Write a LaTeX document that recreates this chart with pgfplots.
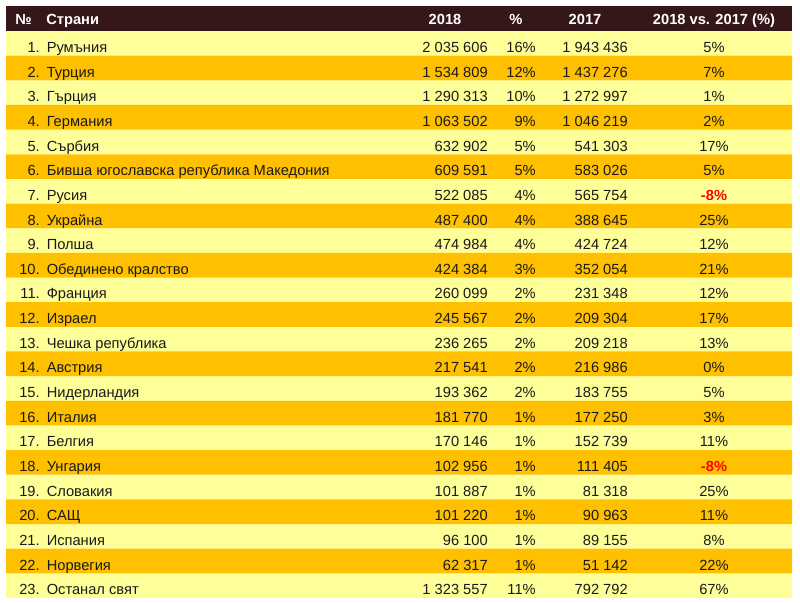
\documentclass[border=0pt]{standalone}
\usepackage{fontspec}
\setmainfont{Liberation Sans}
\usepackage{pgfplots}
\pgfplotsset{compat=1.18}
\usepackage{pgfplotstable}
\definecolor{hdr}{HTML}{361719}
\definecolor{rowY}{HTML}{FFFF99}
\definecolor{rowO}{HTML}{FFC000}
\definecolor{txt}{HTML}{1A1A1A}
\definecolor{neg}{HTML}{FF0000}

\pgfplotstableread[col sep=semicolon]{
i;name;v18;p;v17;ch
1;Румъния;2035606;16;1943436;5
2;Турция;1534809;12;1437276;7
3;Гърция;1290313;10;1272997;1
4;Германия;1063502;9;1046219;2
5;Сърбия;632902;5;541303;17
6;Бивша югославска република Македония;609591;5;583026;5
7;Русия;522085;4;565754;-8
8;Украйна;487400;4;388645;25
9;Полша;474984;4;424724;12
10;Обединено кралство;424384;3;352054;21
11;Франция;260099;2;231348;12
12;Израел;245567;2;209304;17
13;Чешка република;236265;2;209218;13
14;Австрия;217541;2;216986;0
15;Нидерландия;193362;2;183755;5
16;Италия;181770;1;177250;3
17;Белгия;170146;1;152739;11
18;Унгария;102956;1;111405;-8
19;Словакия;101887;1;81318;25
20;САЩ;101220;1;90963;11
21;Испания;96100;1;89155;8
22;Норвегия;62317;1;51142;22
23;Останал свят;1323557;11;792792;67
}\datatable

\pgfplotsset{
  txtcol/.style={draw=none, mark=none, point meta=explicit symbolic,
    every node near coord/.append style={inner sep=0pt,
      font=\fontsize{11}{13}\selectfont, text=txt}},
  rowbar/.style={xbar, bar width=24.65, bar shift=0pt, draw=none},
}

\begin{document}
\begin{tikzpicture}
\begin{axis}[
  scale only axis, width=600pt, height=452.25pt,
  xmin=-6, xmax=794, ymin=0, ymax=603, y dir=reverse,
  enlargelimits=false, hide axis, clip=false,
  /pgf/number format/assume math mode=true,
]
% header background
\addplot[xbar, bar width=25, bar shift=0pt, draw=none, fill=hdr] coordinates {(786,18.5)};
% row backgrounds
\addplot[rowbar, fill=rowY] coordinates {
(786,43.325) (786,92.625) (786,141.925) (786,191.225) (786,240.525) (786,289.825)
(786,339.125) (786,388.425) (786,437.725) (786,487.025) (786,536.325) (786,585.625)};
\addplot[rowbar, fill=rowO] coordinates {
(786,67.975) (786,117.275) (786,166.575) (786,215.875) (786,265.175) (786,314.475)
(786,363.775) (786,413.075) (786,462.375) (786,511.675) (786,560.975)};

% header text
\addplot[txtcol, nodes near coords={\pgfplotspointmeta},
  nodes near coords style={anchor=base west, text=white, font=\fontsize{11}{13}\selectfont\bfseries}]
  coordinates {(9,25) [№] (40,25) [Страни]};
\addplot[txtcol, nodes near coords={\pgfplotspointmeta},
  nodes near coords style={anchor=base, text=white, font=\fontsize{11}{13}\selectfont\bfseries}]
  coordinates {(439,25) [2018] (510,25) [\%] (579,25) [2017] (708,25) [{2018 vs. 2017 (\%)}]};

% row numbers
\addplot[txtcol, nodes near coords={\pgfplotspointmeta.},
  nodes near coords style={anchor=base east}]
  table[x expr=34, y expr=27.8+24.65*\thisrow{i}, meta=i]{\datatable};
% names
\addplot[txtcol, nodes near coords={\pgfplotspointmeta},
  nodes near coords style={anchor=base west}]
  table[x expr=40.5, y expr=27.8+24.65*\thisrow{i}, meta=name]{\datatable};
% 2018
\addplot[txtcol, nodes near coords={\pgfmathprintnumber[fixed,precision=0,1000 sep={\ }]{\pgfplotspointmeta}},
  nodes near coords style={anchor=base east}]
  table[x expr=482, y expr=27.8+24.65*\thisrow{i}, meta=v18]{\datatable};
% share
\addplot[txtcol, nodes near coords={\pgfplotspointmeta\%},
  nodes near coords style={anchor=base east}]
  table[x expr=530, y expr=27.8+24.65*\thisrow{i}, meta=p]{\datatable};
% 2017
\addplot[txtcol, nodes near coords={\pgfmathprintnumber[fixed,precision=0,1000 sep={\ }]{\pgfplotspointmeta}},
  nodes near coords style={anchor=base east}]
  table[x expr=622, y expr=27.8+24.65*\thisrow{i}, meta=v17]{\datatable};
% change
\addplot[txtcol, nodes near coords={\pgfmathtruncatemacro\isneg{(\pgfplotspointmeta<0)}\ifnum\isneg=1 \color{neg}\bfseries\fi\pgfplotspointmeta\%},
  nodes near coords style={anchor=base}]
  table[x expr=708, y expr=27.8+24.65*\thisrow{i}, meta=ch]{\datatable};
\end{axis}
\path (current axis.south west) rectangle (current axis.north east);
\end{tikzpicture}
\end{document}
